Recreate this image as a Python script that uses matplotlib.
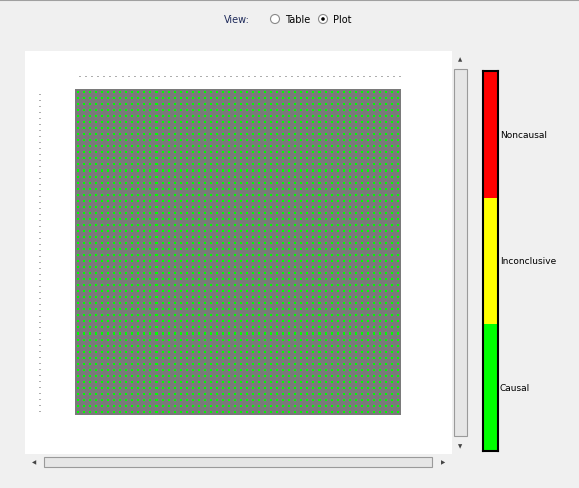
import numpy as np
import matplotlib.pyplot as plt
from matplotlib.patches import Rectangle
from matplotlib.colors import ListedColormap

# status legend, bottom to top
categories = ["Causal", "Inconclusive", "Noncausal"]
category_colors = ["#00ff00", "#ffff00", "#ff0000"]

# 54 variables, every pair classified as causal (index 0)
n_vars = 54
var_labels = ["-"] * n_vars
status = np.zeros((n_vars, n_vars), dtype=int)

W, H = 579, 489
fig = plt.figure(figsize=(W / 100, H / 100), dpi=100, facecolor="#f0f0f0")


def px_axes(x0, y0, x1, y1):
    return fig.add_axes([x0 / W, 1 - y1 / H, (x1 - x0) / W, (y1 - y0) / H])


# header
fig.text(250 / W, 1 - 20 / H, "View:", fontsize=7, color="#1e2a5a", ha="right", va="center")
fig.text(298 / W, 1 - 20 / H, "Table", fontsize=7, ha="center", va="center")
fig.text(342 / W, 1 - 20 / H, "Plot", fontsize=7, ha="center", va="center")
hdr = px_axes(0, 0, W, 40)
hdr.set_xlim(0, W); hdr.set_ylim(40, 0); hdr.axis("off")
hdr.plot([0, W], [1, 1], color="#a0a0a0", lw=1.5)
for cx, on in [(275, False), (323, True)]:
    hdr.add_patch(plt.Circle((cx, 20), 4.5, fc="white", ec="#8a8a8a", lw=0.8))
    if on:
        hdr.add_patch(plt.Circle((cx, 20), 1.8, fc="black"))

# white panel with scrollbars
panel = px_axes(25, 52, 470, 470)
panel.set_xlim(25, 470); panel.set_ylim(470, 52); panel.axis("off")
panel.add_patch(Rectangle((25, 52), 427, 403, fc="white", ec="none"))
panel.add_patch(Rectangle((452, 52), 18, 403, fc="#f0f0f0", ec="none"))
panel.add_patch(Rectangle((454, 70), 13, 367, fc="#e6e6e6", ec="#9a9a9a", lw=0.8))
panel.add_patch(Rectangle((25, 455), 427, 15, fc="#f0f0f0", ec="none"))
panel.add_patch(Rectangle((44, 458), 388, 10, fc="#e6e6e6", ec="#9a9a9a", lw=0.8))
panel.text(460.5, 60, "▲", fontsize=4, ha="center", va="center", color="#444")
panel.text(460.5, 447, "▼", fontsize=4, ha="center", va="center", color="#444")
panel.text(34, 463, "◀", fontsize=4, ha="center", va="center", color="#444")
panel.text(443, 463, "▶", fontsize=4, ha="center", va="center", color="#444")

# variable labels (tiny dashes)
for i, lab in enumerate(var_labels):
    x = 80 + i * (320 / (n_vars - 1))
    panel.text(x, 77, lab, fontsize=4, ha="center", va="center")
    y = 95 + i * (317 / (n_vars - 1))
    panel.text(40, y, lab, fontsize=4, ha="center", va="center")

# matrix
ax = px_axes(75, 90, 401, 416)
ax.set_facecolor("#7a7a7a")
cmap = ListedColormap(category_colors)
yy, xx = np.mgrid[0:n_vars, 0:n_vars]
ax.scatter(xx.ravel(), yy.ravel(), c=status.ravel(), cmap=cmap, vmin=0, vmax=2,
           marker="s", s=2.2, linewidths=0)
ax.set_xlim(-0.5, n_vars - 0.5); ax.set_ylim(n_vars - 0.5, -0.5)
ax.set_xticks([]); ax.set_yticks([])
for s in ax.spines.values():
    s.set_visible(False)

# colour legend bar
cb = px_axes(483, 72, 498, 452)
cb.set_xlim(0, 1); cb.set_ylim(0, 3)
for i, col in enumerate(category_colors):
    cb.add_patch(Rectangle((0, i), 1, 1, fc=col, ec="none"))
cb.set_xticks([]); cb.set_yticks([])
for s in cb.spines.values():
    s.set_linewidth(1.5)
for i, lab in enumerate(categories):
    fig.text(500 / W, 1 - (452 - (i + 0.5) * 380 / 3) / H, lab, fontsize=6.5, va="center")

fig.savefig("out.png", dpi=100, facecolor=fig.get_facecolor())
